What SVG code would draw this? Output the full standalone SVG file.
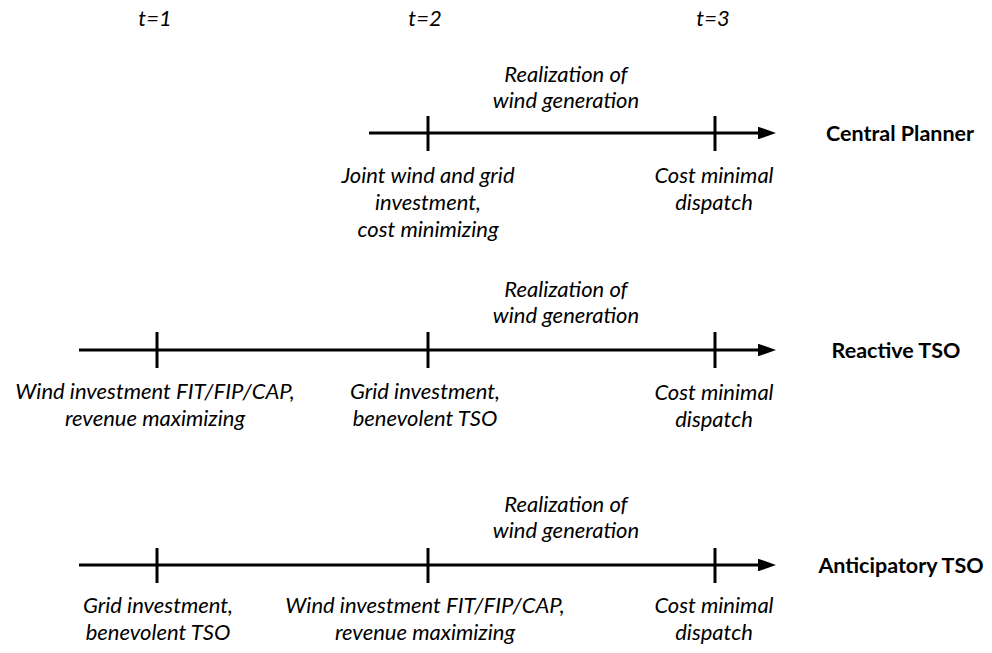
<svg xmlns="http://www.w3.org/2000/svg" width="992" height="653" viewBox="0 0 992 653">
<defs>
<style>
.t{font-family:Lato,"Open Sans","Liberation Sans",sans-serif;font-style:italic;font-size:22px;fill:#000;text-anchor:middle}
.b{font-family:Lato,"Open Sans","Liberation Sans",sans-serif;font-weight:bold;font-size:21.5px;fill:#000;text-anchor:middle}
.ax{stroke:#000;stroke-width:3;fill:none}
.tk{stroke:#000;stroke-width:3}
</style>
<marker id="ah" markerWidth="6" markerHeight="4.2" refX="0" refY="2.1" orient="auto" markerUnits="strokeWidth">
<path d="M0,0 L6,2.1 L0,4.2 Z" fill="#000"/>
</marker>
</defs>
<rect width="992" height="653" fill="#fff"/>
<g id="time-labels">
<text class="t" x="155" y="26">t=1</text>
<text class="t" x="425" y="26">t=2</text>
<text class="t" x="713" y="26">t=3</text>
</g>
<g id="connectors">
<line class="ax" x1="369" y1="133" x2="758" y2="133" marker-end="url(#ah)"/>
<line class="ax" x1="79" y1="350" x2="758" y2="350" marker-end="url(#ah)"/>
<line class="ax" x1="79" y1="565" x2="758" y2="565" marker-end="url(#ah)"/>
</g>
<g id="central-planner">
<line class="tk" x1="428" y1="116" x2="428" y2="151"/>
<line class="tk" x1="715" y1="116" x2="715" y2="151"/>
<text class="t" x="566" y="82">Realization of</text>
<text class="t" x="566" y="108">wind generation</text>
<text class="t" x="428" y="183">Joint wind and grid</text>
<text class="t" x="428" y="210">investment,</text>
<text class="t" x="428" y="237">cost minimizing</text>
<text class="t" x="714" y="183">Cost minimal</text>
<text class="t" x="714" y="210">dispatch</text>
<text class="b" x="900" y="141">Central Planner</text>
</g>
<g id="reactive-tso">
<line class="tk" x1="157" y1="332" x2="157" y2="368"/>
<line class="tk" x1="428" y1="332" x2="428" y2="368"/>
<line class="tk" x1="715" y1="332" x2="715" y2="368"/>
<text class="t" x="566" y="297">Realization of</text>
<text class="t" x="566" y="323">wind generation</text>
<text class="t" x="155" y="399">Wind investment FIT/FIP/CAP,</text>
<text class="t" x="155" y="426">revenue maximizing</text>
<text class="t" x="425" y="399">Grid investment,</text>
<text class="t" x="425" y="426">benevolent TSO</text>
<text class="t" x="714" y="400">Cost minimal</text>
<text class="t" x="714" y="427">dispatch</text>
<text class="b" x="896" y="358">Reactive TSO</text>
</g>
<g id="anticipatory-tso">
<line class="tk" x1="157" y1="548" x2="157" y2="583"/>
<line class="tk" x1="428" y1="548" x2="428" y2="583"/>
<line class="tk" x1="715" y1="548" x2="715" y2="583"/>
<text class="t" x="566" y="512">Realization of</text>
<text class="t" x="566" y="538">wind generation</text>
<text class="t" x="158" y="613">Grid investment,</text>
<text class="t" x="158" y="640">benevolent TSO</text>
<text class="t" x="425" y="613">Wind investment FIT/FIP/CAP,</text>
<text class="t" x="425" y="640">revenue maximizing</text>
<text class="t" x="714" y="613">Cost minimal</text>
<text class="t" x="714" y="640">dispatch</text>
<text class="b" x="901" y="573">Anticipatory TSO</text>
</g>
</svg>
